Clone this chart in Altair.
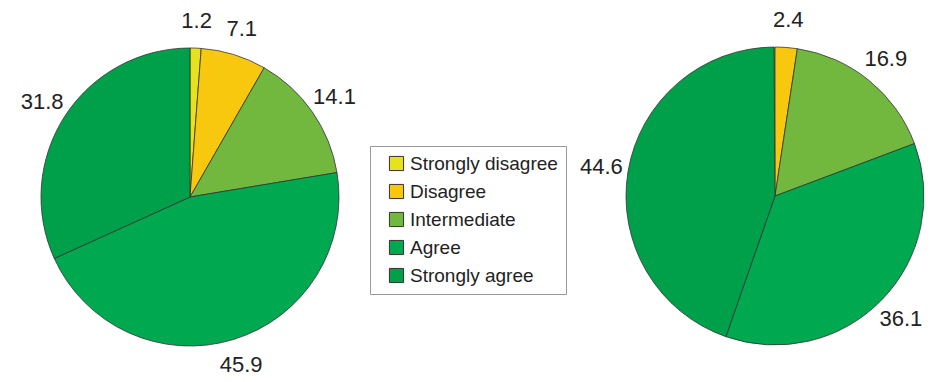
import altair as alt
import pandas as pd

categories = ["Strongly disagree", "Disagree", "Intermediate", "Agree", "Strongly agree"]
left_values = [1.2, 7.1, 14.1, 45.9, 31.8]
right_values = [0.0, 2.4, 16.9, 36.1, 44.6]
colors = ["#e6e21c", "#f8c80e", "#72b83e", "#00a84f", "#009f49"]

rows = []
for i, (c, v) in enumerate(zip(categories, left_values)):
    rows.append({"survey": "left", "category": c, "value": v, "idx": i})
for i, (c, v) in enumerate(zip(categories, right_values)):
    rows.append({"survey": "right", "category": c, "value": v, "idx": i})
df = pd.DataFrame(rows)

color_scale = alt.Scale(domain=categories, range=colors)
base = alt.Chart(df)


def pie(survey, cx, cy, with_legend):
    d = base.transform_filter(alt.datum.survey == survey)
    if with_legend:
        leg = alt.Legend(
            title=None, orient="none", legendX=370, legendY=146,
            symbolType="square", symbolSize=200, symbolStrokeColor="#333",
            symbolStrokeWidth=1, labelFontSize=19, labelFont="Liberation Sans",
            labelColor="#222", rowPadding=8, strokeColor="#999", padding=8,
            fillColor="white", symbolOffset=9, labelOffset=4,
        )
    else:
        leg = None
    arcs = d.mark_arc(outerRadius=149, stroke="#333", strokeWidth=0.8).encode(
        theta=alt.Theta("value:Q", stack=True),
        color=alt.Color("category:N", scale=color_scale, sort=categories, legend=leg),
        order=alt.Order("idx:Q"),
        x=alt.value(cx), y=alt.value(cy),
    )
    labels = d.mark_text(radius=176, fontSize=22, font="Liberation Sans",
                         color="#222").encode(
        theta=alt.Theta("value:Q", stack=True),
        order=alt.Order("idx:Q"),
        text=alt.Text("value:Q", format=".1f"),
        opacity=alt.condition(alt.datum.value > 0, alt.value(1), alt.value(0)),
        x=alt.value(cx), y=alt.value(cy),
    )
    return [arcs, labels]


chart = alt.layer(
    *pie("left", 190, 197, True), *pie("right", 775, 196, False)
).properties(
    width=936, height=382, autosize=alt.AutoSizeParams(type="none"),
    padding=0, background="white",
).configure_view(stroke=None)

chart.save("out.html", embed_options={"renderer": "svg", "actions": False})
